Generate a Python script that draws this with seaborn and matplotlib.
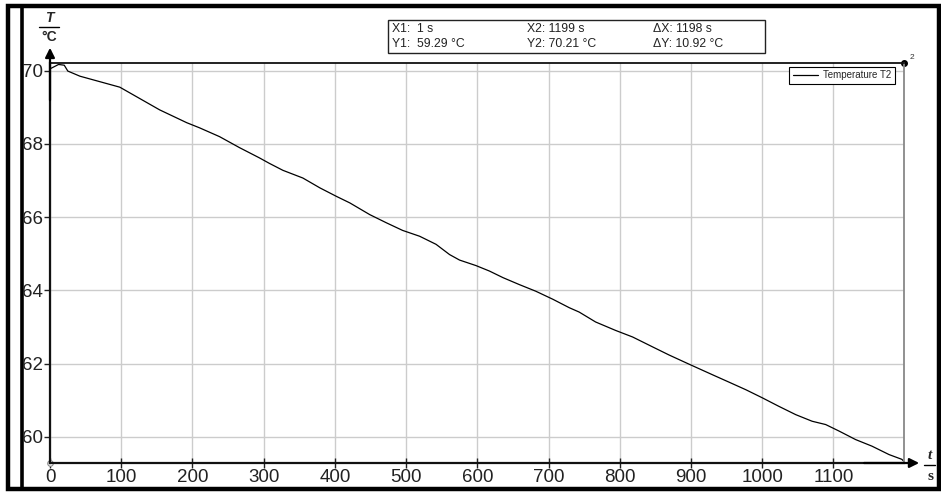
import numpy as np
import pandas as pd
import matplotlib
matplotlib.use("Agg")
import matplotlib.pyplot as plt
import seaborn as sns
from matplotlib.patches import Rectangle
from matplotlib.lines import Line2D

# values
time_s = [0, 5, 12, 20, 25, 42, 70, 98, 126, 154, 192, 210, 238, 266, 294,
          308, 327, 355, 379, 402, 421, 449, 472, 495, 519, 542, 561, 575,
          598, 617, 636, 659, 682, 706, 729, 743, 766, 794, 818, 846, 869,
          897, 930, 953, 977, 1000, 1023, 1047, 1070, 1089, 1108, 1131,
          1154, 1178, 1196, 1199]
temp_c = [70.05, 70.10, 70.17, 70.15, 69.99, 69.85, 69.70, 69.55, 69.24,
          68.93, 68.58, 68.44, 68.20, 67.90, 67.62, 67.47, 67.28, 67.07,
          66.80, 66.57, 66.39, 66.07, 65.85, 65.64, 65.48, 65.26, 64.98,
          64.83, 64.68, 64.53, 64.35, 64.16, 63.98, 63.76, 63.53, 63.41,
          63.14, 62.91, 62.73, 62.46, 62.24, 61.99, 61.70, 61.50, 61.29,
          61.07, 60.84, 60.61, 60.43, 60.34, 60.16, 59.93, 59.75, 59.52,
          59.39, 59.33]

x_ticks = [0, 100, 200, 300, 400, 500, 600, 700, 800, 900, 1000, 1100]
y_ticks = [60, 62, 64, 66, 68, 70]
x_range = (0, 1199)
y_range = (59.29, 70.21)

readout = [["X1:  1 s", "Y1:  59.29 \u00b0C"],
           ["X2: 1199 s", "Y2: 70.21 \u00b0C"],
           ["\u0394X: 1198 s", "\u0394Y: 10.92 \u00b0C"]]

df = pd.DataFrame({"t": time_s, "T": temp_c})

sns.set_theme(style="white")
plt.rcParams["font.family"] = ["Liberation Sans", "DejaVu Sans"]

W, H = 941, 494
fig = plt.figure(figsize=(W / 100, H / 100), dpi=100)
fig.patch.set_facecolor("white")


def fx(px):
    return px / W


def fy(py):
    return 1 - py / H


# window frame first, so texts sit on top of it
fig.add_artist(Rectangle((fx(8), fy(489)), fx(938.5) - fx(8),
                         fy(6) - fy(489), transform=fig.transFigure,
                         fill=False, edgecolor="black", lw=3.2, zorder=0))
fig.add_artist(Line2D([fx(22), fx(22)], [fy(6), fy(489)], color="black",
                      lw=2.6, zorder=0))

ax = fig.add_axes([fx(50), fy(463), fx(904) - fx(50), fy(63) - fy(463)])

sns.lineplot(data=df, x="t", y="T", ax=ax, color="black", linewidth=0.9,
             label="Temperature T2")

ax.set_xlim(*x_range)
ax.set_ylim(*y_range)
ax.set_xticks(x_ticks)
ax.set_yticks(y_ticks)
ax.set_xlabel("")
ax.set_ylabel("")
ax.grid(True, color="#cccccc", linewidth=1)
ax.tick_params(axis="x", direction="inout", length=7, width=1, pad=1,
               labelsize=13.5, colors="#222222", bottom=True)
ax.tick_params(axis="y", direction="out", length=4, width=1, pad=1,
               labelsize=13.5, colors="#222222", left=True)

for side in ["left", "bottom"]:
    ax.spines[side].set_color("#111111")
    ax.spines[side].set_linewidth(1.6)
ax.spines["top"].set_color("#111111")
ax.spines["top"].set_linewidth(1.3)
ax.spines["right"].set_color("#888888")
ax.spines["right"].set_linewidth(1.3)

# axis arrows
ax.annotate("", xy=(0, 1.045), xytext=(0, 0.9), xycoords="axes fraction",
            arrowprops=dict(arrowstyle="-|>", color="black", lw=1.6,
                            mutation_scale=14), annotation_clip=False)
ax.annotate("", xy=(1.021, 0), xytext=(0.95, 0), xycoords="axes fraction",
            arrowprops=dict(arrowstyle="-|>", color="black", lw=1.6,
                            mutation_scale=14), annotation_clip=False)

# cursor markers
ax.plot([x_range[1]], [y_range[1]], "o", color="black", markersize=4,
        clip_on=False)
ax.text(x_range[1] + 8, y_range[1] + 0.1, "2", fontsize=6, color="#333333")
ax.plot([x_range[0]], [y_range[0]], "o", color="white", markersize=4,
        markeredgecolor="#888888", markeredgewidth=0.8, clip_on=False)

leg = ax.legend(loc="upper right", bbox_to_anchor=(0.989, 0.99), fontsize=7,
                frameon=True, fancybox=False, framealpha=1, edgecolor="black",
                handlelength=2.6, borderpad=0.35, handletextpad=0.5,
                borderaxespad=0)
leg.get_frame().set_linewidth(0.8)

# axis captions (quantity over unit)
fig.text(fx(49), fy(18), "T", fontsize=10, fontstyle="italic",
         fontweight="bold", ha="center", va="center")
fig.add_artist(Line2D([fx(39), fx(59)], [fy(27), fy(27)], color="black",
                      lw=1))
fig.text(fx(49), fy(37), "\u00b0C", fontsize=10, fontweight="bold",
         ha="center", va="center")
fig.text(fx(930), fy(455), "t", fontsize=11, fontstyle="italic",
         fontweight="bold", ha="center", va="center",
         family="Liberation Serif")
fig.add_artist(Line2D([fx(924), fx(935)], [fy(465), fy(465)], color="black",
                      lw=1))
fig.text(fx(930), fy(476), "s", fontsize=11, fontweight="bold",
         ha="center", va="center", family="Liberation Serif")

# cursor readout box
fig.add_artist(Rectangle((fx(388), fy(53)), fx(765) - fx(388),
                         fy(20) - fy(53), transform=fig.transFigure,
                         fill=False, edgecolor="#222222", lw=1))
col_x = [392, 527, 653]
for cx, (line1, line2) in zip(col_x, readout):
    fig.text(fx(cx), fy(29.5), line1, fontsize=8.8, va="center",
             color="#222222")
    fig.text(fx(cx), fy(44), line2, fontsize=8.8, va="center",
             color="#222222")

fig.savefig("out.png", dpi=100, facecolor="white")
